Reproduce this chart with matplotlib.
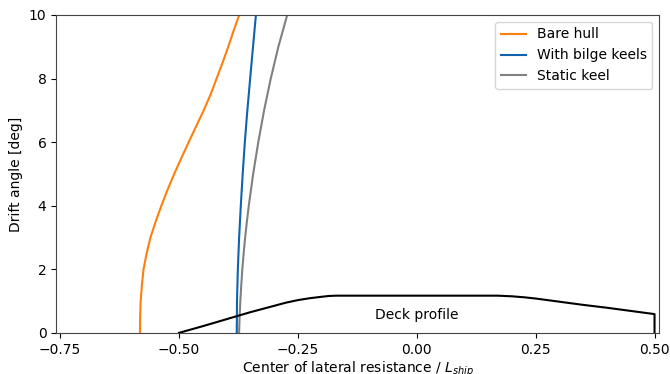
import matplotlib
matplotlib.use("Agg")
import matplotlib.pyplot as plt
import numpy as np

# drift angle [deg] and centre of lateral resistance / L_ship
drift_bare = [0, 0.5, 1, 1.5, 2, 2.5, 3, 3.5, 4, 4.5, 5, 5.5, 6, 6.5, 7, 7.5, 8, 8.5, 9, 9.5, 10]
clr_bare = [-0.5819, -0.5817, -0.5805, -0.5780, -0.5745, -0.5680, -0.5600, -0.5490, -0.5370,
            -0.5240, -0.5100, -0.4950, -0.4795, -0.4638, -0.4480, -0.4335, -0.4209, -0.4083,
            -0.3964, -0.3852, -0.3732]

drift_bilge = [0, 1, 2, 3, 4, 5, 6, 7, 8, 9, 10]
clr_bilge = [-0.3785, -0.3780, -0.3762, -0.3735, -0.3700, -0.3660, -0.3615,
             -0.3562, -0.3503, -0.3443, -0.3382]

drift_static = [0, 0.5, 1, 1.5, 2, 2.5, 3, 3.5, 4, 5, 6, 7, 8, 9, 10]
clr_static = [-0.3736, -0.3725, -0.3710, -0.3690, -0.3668, -0.3640, -0.3608, -0.3572,
              -0.3532, -0.3440, -0.3332, -0.3210, -0.3070, -0.2910, -0.2724]

# deck outline, x / L_ship and height in the same axis units
deck_x = [-0.5, -0.45, -0.4, -0.35, -0.3, -0.275, -0.25, -0.225, -0.2, -0.185, -0.17,
          0.17, 0.2, 0.225, 0.25, 0.3, 0.35, 0.4, 0.45, 0.5, 0.5]
deck_y = [0.0, 0.21, 0.43, 0.65, 0.85, 0.95, 1.03, 1.09, 1.135, 1.16, 1.17,
          1.17, 1.15, 1.12, 1.08, 0.98, 0.88, 0.79, 0.69, 0.59, 0.0]

plt.rcParams['font.family'] = ['DejaVu Sans']
plt.rcParams['font.size'] = 10

fig, ax = plt.subplots(figsize=(6.7, 3.74), dpi=100)
fig.subplots_adjust(left=0.084, right=0.984, top=0.96, bottom=0.11)

ax.plot(clr_bare, drift_bare, color='#ff7f0e', lw=1.5, label='Bare hull')
ax.plot(clr_bilge, drift_bilge, color='#0f62b0', lw=1.5, label='With bilge keels')
ax.plot(clr_static, drift_static, color='#808080', lw=1.5, label='Static keel')
ax.plot(deck_x, deck_y, color='black', lw=1.5)
ax.text(0.0, 0.55, 'Deck profile', ha='center', va='center')

ax.set_xlim(-0.758, 0.51)
ax.set_ylim(0, 10)
ax.set_xticks([-0.75, -0.5, -0.25, 0.0, 0.25, 0.5])
ax.set_xlabel('Center of lateral resistance / $L_{ship}$', labelpad=2)
ax.set_ylabel('Drift angle [deg]')
for s in ax.spines.values():
    s.set_color('#444444')
ax.legend(loc='upper right', handlelength=1.8)

fig.savefig('out.png')
